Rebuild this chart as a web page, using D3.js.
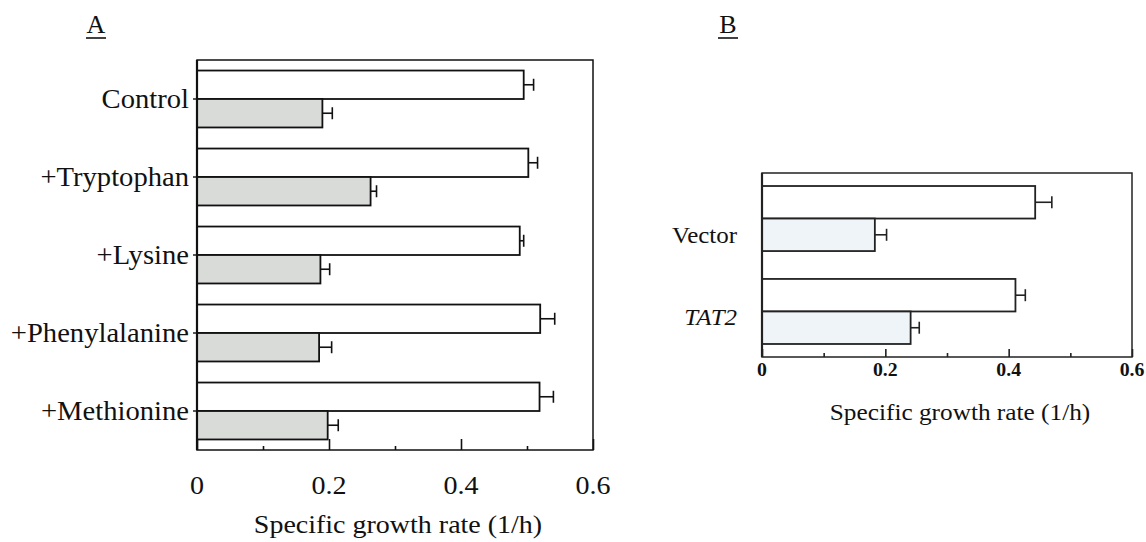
<!DOCTYPE html>
<html>
<head>
<meta charset="utf-8">
<script src="https://cdn.jsdelivr.net/npm/d3@7"></script>
<style>
  html, body { margin: 0; padding: 0; background: #fff; }
  svg { display: block; }
  text { font-family: "Liberation Serif", "Times New Roman", serif; fill: #111; }
</style>
</head>
<body>
<svg id="chart" width="1146" height="542"></svg>
<script>
// Panel A: growth with amino-acid supplements
const categoriesA = ["Control", "+Tryptophan", "+Lysine", "+Phenylalanine", "+Methionine"];
const openA = [0.495, 0.502, 0.489, 0.520, 0.519];
const openErrA = [0.015, 0.014, 0.006, 0.022, 0.021];
const shadedA = [0.190, 0.263, 0.187, 0.185, 0.198];
const shadedErrA = [0.015, 0.009, 0.014, 0.019, 0.016];

// Panel B: vector vs TAT2 over-expression
const categoriesB = ["Vector", "TAT2"];
const openB = [0.443, 0.411];
const openErrB = [0.027, 0.016];
const shadedB = [0.183, 0.241];
const shadedErrB = [0.019, 0.014];

const tickLabels = [0, 0.2, 0.4, 0.6];
const minorTicks = [0.1, 0.3, 0.5];
const axisTitle = "Specific growth rate (1/h)";

const svg = d3.select("#chart");
svg.append("rect").attr("width", 1146).attr("height", 542).attr("fill", "#fff");

// text helper: serif text, slightly widened horizontally
function label(g, x, y, str, opts) {
  const o = Object.assign({ size: 25, anchor: "middle", sx: 1.14, italic: false, bold: false }, opts || {});
  return g.append("text")
    .attr("transform", `translate(${x},${y}) scale(${o.sx},1)`)
    .attr("text-anchor", o.anchor)
    .style("font-size", o.size + "px")
    .style("font-style", o.italic ? "italic" : "normal")
    .style("font-weight", o.bold ? "bold" : "normal")
    .text(str);
}

function panel(cfg) {
  const g = svg.append("g");
  const x = d3.scaleLinear().domain([0, 0.6]).range([cfg.left, cfg.right]);
  const y = d3.scaleBand().domain(cfg.categories).range([cfg.top, cfg.bottom])
    .paddingInner(cfg.padIn).paddingOuter(cfg.padOut);
  const sub = d3.scaleBand().domain(["open", "shaded"]).range([0, y.bandwidth()]);

  const rows = cfg.categories.map((c, i) => ({
    c,
    open: cfg.open[i], openErr: cfg.openErr[i],
    shaded: cfg.shaded[i], shadedErr: cfg.shadedErr[i]
  }));

  // bars
  const series = [
    { key: "open", fill: "#ffffff", v: d => d.open, e: d => d.openErr },
    { key: "shaded", fill: cfg.shadeFill, v: d => d.shaded, e: d => d.shadedErr }
  ];
  series.forEach(s => {
    g.selectAll(null).data(rows).enter().append("rect")
      .attr("x", x(0))
      .attr("y", d => y(d.c) + sub(s.key))
      .attr("width", d => x(s.v(d)) - x(0))
      .attr("height", sub.bandwidth())
      .attr("fill", s.fill)
      .attr("stroke", cfg.stroke)
      .attr("stroke-width", 1.8);
    // error bars
    const eb = g.selectAll(null).data(rows).enter().append("g");
    eb.append("line")
      .attr("x1", d => x(s.v(d))).attr("x2", d => x(s.v(d) + s.e(d)))
      .attr("y1", d => y(d.c) + sub(s.key) + sub.bandwidth() / 2)
      .attr("y2", d => y(d.c) + sub(s.key) + sub.bandwidth() / 2)
      .attr("stroke", cfg.stroke).attr("stroke-width", 1.6);
    eb.append("line")
      .attr("x1", d => x(s.v(d) + s.e(d))).attr("x2", d => x(s.v(d) + s.e(d)))
      .attr("y1", d => y(d.c) + sub(s.key) + sub.bandwidth() / 2 - cfg.cap / 2)
      .attr("y2", d => y(d.c) + sub(s.key) + sub.bandwidth() / 2 + cfg.cap / 2)
      .attr("stroke", cfg.stroke).attr("stroke-width", 1.6);
  });

  // frame
  g.append("rect")
    .attr("x", cfg.left).attr("y", cfg.top)
    .attr("width", cfg.right - cfg.left).attr("height", cfg.bottom - cfg.top)
    .attr("fill", "none").attr("stroke", cfg.stroke).attr("stroke-width", 1.5);
  g.append("line")
    .attr("x1", cfg.left).attr("x2", cfg.left)
    .attr("y1", cfg.top).attr("y2", cfg.bottom)
    .attr("stroke", cfg.stroke).attr("stroke-width", 2.2);

  // bottom axis: inward ticks (major + minor), labels drawn separately
  const axMajor = d3.axisBottom(x).tickValues(cfg.tickLabels).tickSize(-cfg.majorLen).tickFormat("");
  const axMinor = d3.axisBottom(x).tickValues(cfg.minorTicks).tickSize(-cfg.minorLen).tickFormat("");
  [axMajor, axMinor].forEach(ax => {
    const a = g.append("g").attr("transform", `translate(0,${cfg.bottom})`).call(ax);
    a.select(".domain").remove();
    a.selectAll("line").attr("stroke", cfg.stroke).attr("stroke-width", 1.6);
  });

  // left category ticks
  const axL = d3.axisLeft(y).tickSize(cfg.catTick).tickFormat("");
  const al = g.append("g").attr("transform", `translate(${cfg.left},0)`).call(axL);
  al.select(".domain").remove();
  al.selectAll("line").attr("stroke", cfg.stroke).attr("stroke-width", 1.4);

  // tick labels
  cfg.tickLabels.forEach(v => {
    label(g, x(v), cfg.tickY, v === 0 ? "0" : String(v), cfg.tickFont);
  });
  // category labels
  cfg.categories.forEach((c, i) => {
    const f = Object.assign({ anchor: "end" }, cfg.catFont, cfg.catStyle ? cfg.catStyle[i] : {});
    label(g, cfg.catX, y(c) + y.bandwidth() / 2 + cfg.catDy[i], c, f);
  });
  // axis title
  label(g, (cfg.left + cfg.right) / 2 + cfg.titleDx, cfg.titleY, axisTitle, cfg.titleFont);
  // panel letter
  label(g, cfg.letterX, cfg.letterY, cfg.letter, { size: 26, sx: 1.0 });
  g.append("line")
    .attr("x1", cfg.letterX - 10).attr("x2", cfg.letterX + 10)
    .attr("y1", cfg.letterY + 5).attr("y2", cfg.letterY + 5)
    .attr("stroke", "#111").attr("stroke-width", 1.6);
}

panel({
  categories: categoriesA, open: openA, openErr: openErrA, shaded: shadedA, shadedErr: shadedErrA,
  left: 197, right: 593, top: 60, bottom: 450, padIn: 0.27, padOut: 0.135,
  shadeFill: "#d9dbd9", stroke: "#111", cap: 12,
  tickLabels: tickLabels, minorTicks: minorTicks, majorLen: 11, minorLen: 4, catTick: 4,
  tickY: 494, tickFont: { size: 26, sx: 1.08 },
  catX: 189, catDy: [9, 9, 9, 9, 9], catFont: { size: 27, sx: 1.06 },
  titleY: 533, titleDx: 3, titleFont: { size: 25, sx: 1.12 },
  letter: "A", letterX: 96, letterY: 33
});

panel({
  categories: categoriesB, open: openB, openErr: openErrB, shaded: shadedB, shadedErr: shadedErrB,
  left: 762, right: 1132, top: 173, bottom: 357, padIn: 0.3, padOut: 0.14,
  shadeFill: "#eef4f7", stroke: "#222", cap: 12,
  tickLabels: tickLabels, minorTicks: minorTicks, majorLen: 8, minorLen: 4, catTick: 0,
  tickY: 376, tickFont: { size: 18, sx: 1.1, bold: true },
  catX: 737, catDy: [24, 14], catFont: { size: 24, sx: 1.04 },
  catStyle: [{}, { italic: true }],
  titleY: 420, titleDx: 13, titleFont: { size: 23, sx: 1.1 },
  letter: "B", letterX: 728, letterY: 33
});
</script>
</body>
</html>
